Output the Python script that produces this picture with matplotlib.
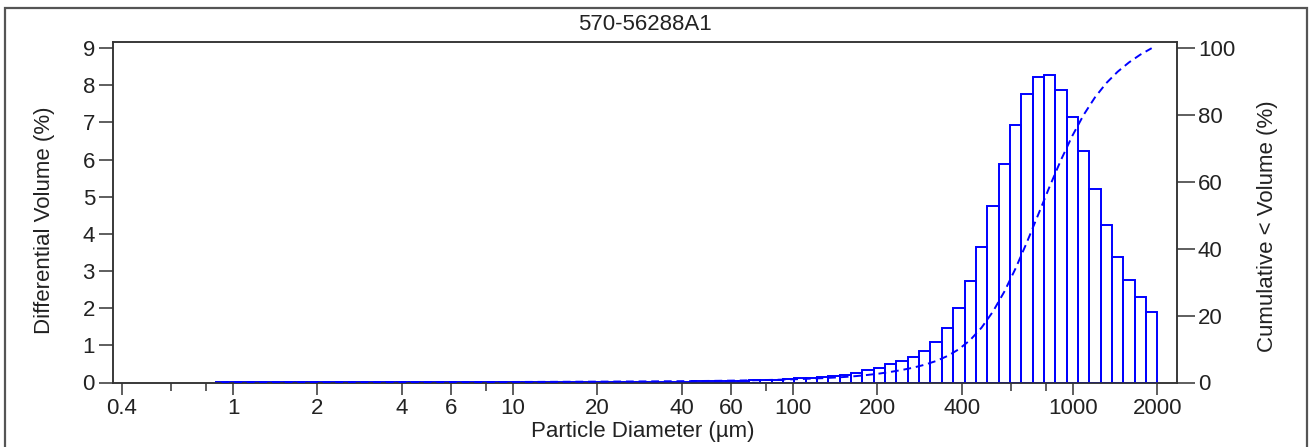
import numpy as np
import matplotlib
matplotlib.use("Agg")
import matplotlib.pyplot as plt
from matplotlib.ticker import FixedLocator, NullFormatter, FixedFormatter
from matplotlib.patches import Rectangle

plt.rcParams['font.family'] = ['Liberation Sans', 'DejaVu Sans']

# ---------------- data ----------------
title = "570-56288A1"
# instrument channels: 92 log-spaced size classes from 0.375 to 2000 um
channel_low = 0.375
channel_high = 2000.0
n_channels = 92

# differential volume (%) per channel
diff_volume = [
    0, 0, 0, 0, 0, 0, 0, 0, 0,                                   # 0-8
    0.004, 0.004, 0.004, 0.004, 0.004, 0.004, 0.004, 0.004, 0.004, 0.004, 0.004,  # 9-19
    0.006, 0.006, 0.006, 0.006, 0.006, 0.006, 0.006, 0.006, 0.006, 0.006,        # 20-29
    0.009, 0.009, 0.010, 0.010, 0.010, 0.011, 0.011, 0.012, 0.012, 0.013,        # 30-39
    0.014, 0.014, 0.015, 0.016, 0.016, 0.017, 0.018, 0.019, 0.020, 0.022,        # 40-49
    0.025, 0.030, 0.035, 0.040, 0.045, 0.050, 0.060, 0.070, 0.080,              # 50-58
    0.09, 0.11, 0.13, 0.14, 0.17, 0.20, 0.26, 0.34, 0.40, 0.49,                  # 59-68
    0.58, 0.69, 0.86, 1.10, 1.48, 2.00, 2.73, 3.66, 4.74, 5.88,                  # 69-78
    6.94, 7.76, 8.22, 8.28, 7.88, 7.16, 6.23, 5.20, 4.24, 3.37,                  # 79-88
    2.76, 2.31, 1.91,                                                            # 89-91
]

x_major_ticks = [0.4, 1, 2, 4, 6, 10, 20, 40, 60, 100, 200, 400, 1000, 2000]
x_major_labels = ["0.4", "1", "2", "4", "6", "10", "20", "40", "60", "100",
                  "200", "400", "1000", "2000"]
x_minor_ticks = [0.6, 0.8, 8, 80, 600, 800]
left_ticks = [0, 1, 2, 3, 4, 5, 6, 7, 8, 9]
right_ticks = [0, 20, 40, 60, 80, 100]

# ---------------- derived ----------------
edges = np.geomspace(channel_low, channel_high, n_channels + 1)
vals = np.array(diff_volume, dtype=float)
lefts = edges[:-1]
widths = np.diff(edges)
centers = np.sqrt(edges[:-1] * edges[1:])
mask = vals > 0
cum = np.cumsum(vals) / vals.sum() * 100.0

# ---------------- figure ----------------
W, H = 1309, 447
fig = plt.figure(figsize=(W / 100, H / 100), dpi=100)
ax_l, ax_r, ax_t, ax_b = 113, 1177, 41.5, 382.5
ax = fig.add_axes([ax_l / W, 1 - ax_b / H, (ax_r - ax_l) / W, (ax_b - ax_t) / H])

blue = '#0000ff'
dark = '#333333'
txt = '#222222'
fs = 16

ax.bar(lefts[mask], vals[mask], width=widths[mask], align='edge', fill=False,
       edgecolor=blue, linewidth=1.4, zorder=3)
ax.set_xscale('log')
ax.set_xlim(0.3727, 2351)
ax.set_ylim(0, 9.18)

ax.xaxis.set_major_locator(FixedLocator(x_major_ticks))
ax.xaxis.set_major_formatter(FixedFormatter(x_major_labels))
ax.xaxis.set_minor_locator(FixedLocator(x_minor_ticks))
ax.xaxis.set_minor_formatter(NullFormatter())
ax.set_yticks(left_ticks)

for s in ax.spines.values():
    s.set_color(dark)
    s.set_linewidth(1.1)

ax.tick_params(axis='x', which='major', length=8.5, width=1.1, color=dark,
               labelsize=fs, labelcolor=txt, pad=2.5)
ax.tick_params(axis='x', which='minor', length=5.5, width=1.1, color=dark)
ax.tick_params(axis='y', which='major', length=10, width=1.1, color=dark,
               labelsize=fs, labelcolor=txt, pad=3)

ax2 = ax.twinx()
ax2.plot(centers[mask], cum[mask], color=blue, linewidth=1.4,
         linestyle=(0, (4, 2.5)), zorder=4)
ax2.set_ylim(0, 102)
ax2.set_yticks(right_ticks)
ax2.set_xlim(0.3727, 2351)
for s in ax2.spines.values():
    s.set_color(dark)
    s.set_linewidth(1.1)
ax2.tick_params(axis='y', which='major', length=13, width=1.1, color=dark,
                labelsize=fs, labelcolor=txt, pad=2)

ax.set_xlabel("Particle Diameter (µm)", fontsize=fs, color=txt)
ax.xaxis.set_label_coords((643 - ax_l) / (ax_r - ax_l), (ax_b - 431) / (ax_b - ax_t))
ax.xaxis.label.set_va('center')

ax.set_ylabel("Differential Volume (%)", fontsize=fs, color=txt)
ax.yaxis.set_label_coords((45 - ax_l) / (ax_r - ax_l), (ax_b - 220) / (ax_b - ax_t))
ax.yaxis.label.set_va('center')

ax2.set_ylabel("Cumulative < Volume (%)", fontsize=fs, color=txt)
ax2.yaxis.set_label_coords((1267 - ax_l) / (ax_r - ax_l), (ax_b - 226) / (ax_b - ax_t))
ax2.yaxis.label.set_va('center')

ax.set_title(title, fontsize=fs, color=txt, y=(ax_b - 24) / (ax_b - ax_t),
             va='center', pad=0)

# outer frame
fig.add_artist(Rectangle((5 / W, -0.05), (1307 - 5) / W, (H - 8) / H + 0.05,
                         transform=fig.transFigure, fill=False,
                         edgecolor='#555555', linewidth=1.6))

fig.savefig('out.png', dpi=100)
